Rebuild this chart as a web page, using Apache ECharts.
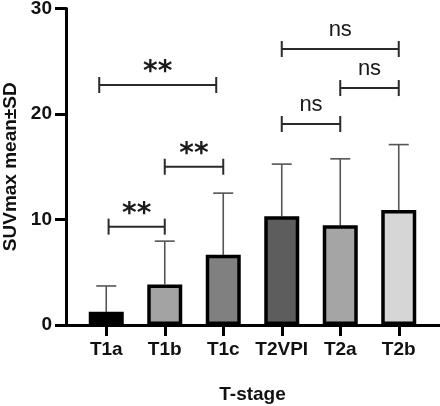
<!DOCTYPE html>
<html><head><meta charset="utf-8">
<script src="https://cdn.jsdelivr.net/npm/echarts@6/dist/echarts.min.js"></script>
<style>html,body{margin:0;padding:0;background:#fff}#c{width:440px;height:406px}</style>
</head><body><div id="c"></div>
<script>
const categories = ['T1a','T1b','T1c','T2VPI','T2a','T2b'];
const means = [1.25, 3.85, 6.65, 10.3, 9.45, 10.9];
const sds = [2.45, 4.1, 5.85, 4.95, 6.3, 6.2];
const barColors = ['#000000','#a3a3a3','#808080','#5d5d5d','#a5a5a5','#d6d6d6'];
const yTicks = [0, 10, 20, 30];
// brackets: [from (category position), to (category position), height, label]
const bracketFrom = [0.04, 1.0, -0.12, 3.0, 4.0, 3.0];
const bracketTo = [1.0, 2.0, 1.88, 4.0, 5.0, 5.0];
const bracketY = [9.32, 15.0, 22.75, 19.05, 22.46, 26.16];
const bracketLabel = ['**','**','**','ns','ns','ns'];

const FONT = '"Liberation Sans", Arial, sans-serif';
const chart = echarts.init(document.getElementById('c'), null, {renderer:'canvas'});

function cx(api, v) {
  const i = Math.round(v);
  return api.coord([i, 0])[0] + (v - i) * api.size([1, 0])[0];
}

const option = {
  animation: false,
  backgroundColor: '#fff',
  grid: [
    {left: 66, right: 0, top: 8.5, bottom: 81, outerBoundsMode: 'none', containLabel: false},
    {left: 77, right: 12, top: 8.5, bottom: 81, outerBoundsMode: 'none', containLabel: false}
  ],
  xAxis: [
    {type: 'value', gridIndex: 0, min: 0, max: 1,
     axisLine: {show: true, onZero: false, lineStyle: {color: '#000', width: 3}},
     axisTick: {show: false}, axisLabel: {show: false}, splitLine: {show: false}},
    {type: 'category', gridIndex: 1, data: categories,
     axisLine: {show: false}, 
     axisTick: {show: true, alignWithLabel: true, interval: 0, length: 11, lineStyle: {color: '#000', width: 3}},
     axisLabel: {interval: 0, color: '#111', fontFamily: FONT, fontWeight: 'bold', fontSize: 19, margin: 15},
     name: 'T-stage', nameLocation: 'middle', nameGap: 60,
     nameTextStyle: {color: '#111', fontFamily: FONT, fontWeight: 'bold', fontSize: 19}}
  ],
  yAxis: [
    {type: 'value', gridIndex: 0, min: yTicks[0], max: yTicks[yTicks.length-1], interval: 10,
     axisLine: {show: true, lineStyle: {color: '#000', width: 3}},
     axisTick: {show: true, length: 11, lineStyle: {color: '#000', width: 3}},
     axisLabel: {color: '#111', fontFamily: FONT, fontWeight: 'bold', fontSize: 19, margin: 14},
     splitLine: {show: false},
     name: 'SUVmax mean±SD', nameLocation: 'middle', nameGap: 46,
     nameTextStyle: {color: '#111', fontFamily: FONT, fontWeight: 'bold', fontSize: 19}},
    {type: 'value', gridIndex: 1, min: 0, max: 30, show: false}
  ],
  series: [
    {type: 'custom', xAxisIndex: 1, yAxisIndex: 1, z: 1,
     data: categories.map((c, i) => [i, means[i], sds[i]]),
     renderItem: function (params, api) {
       const i = api.value(0);
       const p0 = api.coord([i, api.value(1)]);
       const p1 = api.coord([i, api.value(1) + api.value(2)]);
       const st = {stroke: '#555', lineWidth: 1.6};
       return {type: 'group', children: [
         {type: 'line', shape: {x1: p0[0], y1: p0[1], x2: p1[0], y2: p1[1]}, style: st},
         {type: 'line', shape: {x1: p1[0]-10, y1: p1[1], x2: p1[0]+10, y2: p1[1]}, style: st}
       ]};
     }},
    {type: 'bar', xAxisIndex: 1, yAxisIndex: 1, z: 2, barWidth: 35,
     data: means.map((v, i) => ({value: v, itemStyle: {color: barColors[i]}})),
     itemStyle: {borderColor: '#000', borderWidth: 3.5}},
    {type: 'custom', xAxisIndex: 1, yAxisIndex: 1, z: 3,
     data: bracketY.map((y, k) => [bracketFrom[k], bracketTo[k], y, k]),
     encode: {x: 0, y: 2},
     renderItem: function (params, api) {
       const k = api.value(3);
       const x1 = cx(api, api.value(0));
       const x2 = cx(api, api.value(1));
       const y = api.coord([0, api.value(2)])[1];
       const st = {stroke: '#2a2a2a', lineWidth: 2};
       const lab = bracketLabel[k];
       const isStar = lab === '**';
       return {type: 'group', children: [
         {type: 'line', shape: {x1: x1, y1: y, x2: x2, y2: y}, style: st},
         {type: 'line', shape: {x1: x1, y1: y-8, x2: x1, y2: y+8}, style: st},
         {type: 'line', shape: {x1: x2, y1: y-8, x2: x2, y2: y+8}, style: st},
         {type: 'text', style: {
           text: lab, x: (x1 + x2) / 2, y: isStar ? y + 2 : y - 8,
           align: 'center', verticalAlign: 'bottom',
           font: isStar ? 'bold 28px "DejaVu Sans", sans-serif' : '22px "Liberation Sans", Arial, sans-serif',
           fill: '#1a1a1a'}}
       ]};
     }}
  ]
};
chart.setOption(option);
</script></body></html>
